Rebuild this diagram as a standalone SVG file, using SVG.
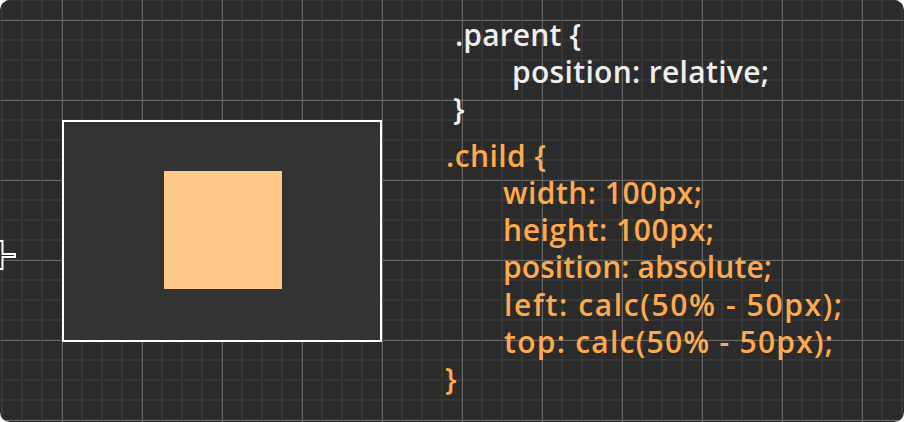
<svg xmlns="http://www.w3.org/2000/svg" width="904" height="422" viewBox="0 0 904 422">
  <defs>
    <pattern id="minorGrid" width="20" height="20" patternUnits="userSpaceOnUse" x="1" y="-1">
      <rect x="0" y="0" width="2" height="20" fill="#373737"/>
      <rect x="0" y="0" width="20" height="2" fill="#373737"/>
    </pattern>
    <pattern id="majorGrid" width="80" height="80" patternUnits="userSpaceOnUse" x="62" y="20">
      <rect x="0" y="0" width="1" height="80" fill="#666666"/>
      <rect x="0" y="0" width="80" height="1" fill="#666666"/>
    </pattern>
    <clipPath id="card">
      <rect x="0" y="0" width="904" height="422" rx="10" ry="10"/>
    </clipPath>
    <style>
      .code { font-family: "Open Sans", "DejaVu Sans", sans-serif; font-size: 30px; font-weight: 600; }
      .white { fill: #eeeeee; }
      .orange { fill: #ffa94d; }
    </style>
  </defs>

  <rect x="0" y="0" width="904" height="422" fill="#ffffff"/>
  <g id="background" clip-path="url(#card)">
    <rect x="0" y="0" width="904" height="422" fill="#2b2b2b"/>
    <rect x="0" y="0" width="904" height="422" fill="url(#minorGrid)"/>
    <rect x="0" y="0" width="904" height="422" fill="url(#majorGrid)"/>
  </g>

  <g id="connectors"/>

  <g id="cursor">
    <path d="M-6 241 H2.5 V254 H15 V257 H2.5 V269 H-6" fill="#2b2b2b" stroke="#ffffff" stroke-width="2"/>
  </g>

  <g id="parent">
    <rect x="63" y="121" width="318" height="220" fill="#333333" stroke="#ffffff" stroke-width="2"/>
  </g>

  <g id="child">
    <rect x="164" y="171" width="118" height="118" fill="#ffc78a"/>
  </g>

  <g id="parent-css" class="code white">
    <text x="455" y="45.5" textLength="126">.parent {</text>
    <text x="512" y="82.8" textLength="257">position: relative;</text>
    <text x="453" y="120">}</text>
  </g>

  <g id="child-css" class="code orange">
    <text x="446" y="166.5" textLength="100">.child {</text>
    <text x="503" y="203.8" textLength="199">width: 100px;</text>
    <text x="503" y="241.1" textLength="211">height: 100px;</text>
    <text x="503" y="278.4" textLength="269">position: absolute;</text>
    <text x="504" y="315.7" textLength="338">left: calc(50% - 50px);</text>
    <text x="504" y="353" textLength="329">top: calc(50% - 50px);</text>
    <text x="445" y="390.3">}</text>
  </g>
</svg>
